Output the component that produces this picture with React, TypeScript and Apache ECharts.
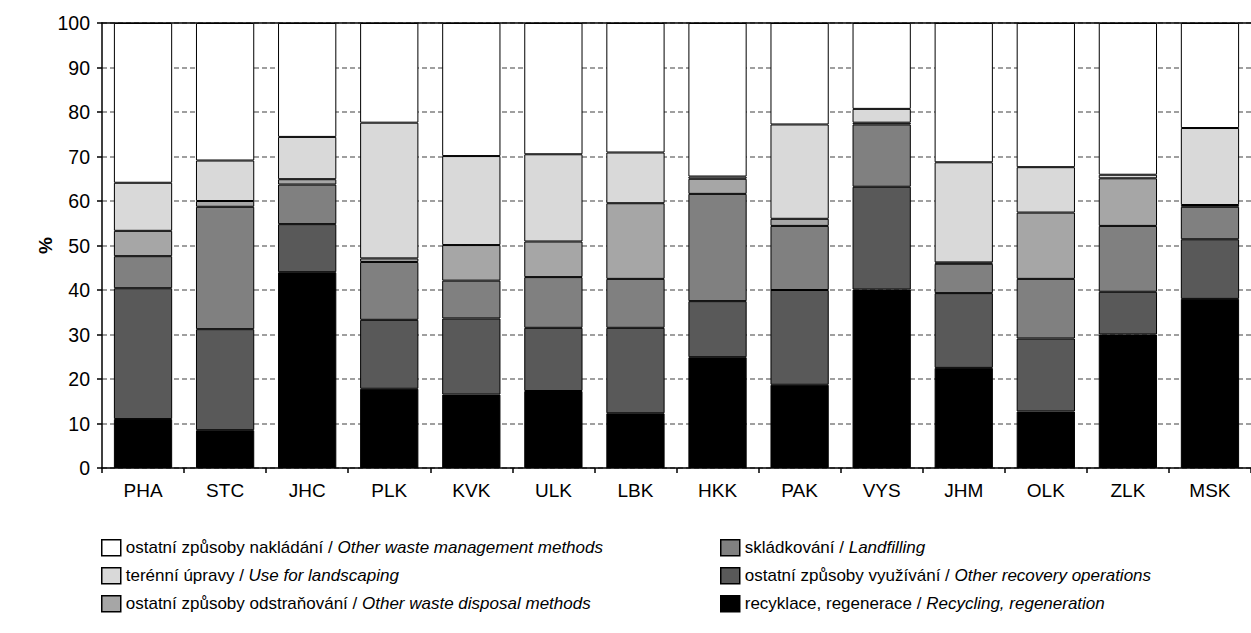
import React, { useEffect, useRef } from "react";
import * as echarts from "echarts";

const regions = ["PHA", "STC", "JHC", "PLK", "KVK", "ULK", "LBK", "HKK", "PAK", "VYS", "JHM", "OLK", "ZLK", "MSK"];

// bottom to top
const recycling = [11.0, 8.5, 44.0, 17.8, 16.5, 17.3, 12.3, 24.9, 18.7, 40.1, 22.5, 12.7, 30.0, 38.0];
const otherRecovery = [29.4, 22.7, 10.8, 15.5, 17.1, 14.2, 19.2, 12.6, 21.3, 23.1, 16.8, 16.4, 9.6, 13.4];
const landfilling = [7.2, 27.5, 8.9, 13.0, 8.5, 11.4, 11.0, 24.1, 14.4, 14.0, 6.6, 13.4, 14.8, 7.3];
const otherDisposal = [5.7, 1.3, 1.2, 0.8, 8.0, 8.0, 17.0, 3.4, 1.6, 0.4, 0.3, 14.9, 10.7, 0.4];
const landscaping = [10.8, 9.1, 9.5, 30.5, 20.0, 19.6, 11.4, 0.5, 21.2, 3.1, 22.5, 10.2, 0.8, 17.3];
const otherManagement = [35.9, 30.9, 25.6, 22.4, 29.9, 29.5, 29.1, 34.5, 22.8, 19.3, 31.3, 32.4, 34.1, 23.6];

const seriesDefs = [
  { cz: "recyklace, regenerace", en: "Recycling, regeneration", data: recycling, color: "#000000" },
  { cz: "ostatní způsoby využívání", en: "Other recovery operations", data: otherRecovery, color: "#595959" },
  { cz: "skládkování", en: "Landfilling", data: landfilling, color: "#808080" },
  { cz: "ostatní způsoby odstraňování", en: "Other waste disposal methods", data: otherDisposal, color: "#A6A6A6" },
  { cz: "terénní úpravy", en: "Use for landscaping", data: landscaping, color: "#D9D9D9" },
  { cz: "ostatní způsoby nakládání", en: "Other waste management methods", data: otherManagement, color: "#FFFFFF" },
];

const fullName = (d: { cz: string; en: string }) => `${d.cz} / ${d.en}`;

const FONT = "'Liberation Sans', Arial, sans-serif";

export default function App() {
  const ref = useRef<HTMLDivElement>(null);
  useEffect(() => {
    if (!ref.current) return;
    const chart = echarts.init(ref.current, null, { renderer: "svg" });
    const legendText = {
      fontFamily: FONT,
      fontSize: 17,
      color: "#000",
      rich: {
        n: { fontFamily: FONT, fontSize: 17, color: "#000" },
        i: { fontFamily: FONT, fontSize: 17, color: "#000", fontStyle: "italic" },
      },
    };
    const fmt = (name: string) => {
      const idx = name.indexOf(" / ");
      return `{n|${name.slice(0, idx)} / }{i|${name.slice(idx + 3)}}`;
    };
    const legendBase = {
      orient: "vertical",
      top: 534,
      icon: "rect",
      itemWidth: 19,
      itemHeight: 16,
      itemGap: 10.5,
      itemStyle: { borderColor: "#000", borderWidth: 1.5 },
      formatter: fmt,
      textStyle: legendText,
      selectedMode: false,
    };
    chart.setOption({
      animation: false,
      backgroundColor: "#ffffff",
      textStyle: { fontFamily: FONT },
      grid: { left: 102, right: 0, top: 23, bottom: 165, containLabel: false },
      legend: [
        {
          ...legendBase,
          left: 96,
          data: [seriesDefs[5], seriesDefs[4], seriesDefs[3]].map(fullName),
        },
        {
          ...legendBase,
          left: 715,
          data: [seriesDefs[2], seriesDefs[1], seriesDefs[0]].map(fullName),
        },
      ],
      xAxis: [
        {
          type: "category",
          data: regions,
          axisLine: { lineStyle: { color: "#000", width: 1.5 } },
          axisTick: { show: true, length: 5, lineStyle: { color: "#000", width: 1.5 } },
          axisLabel: { color: "#000", fontSize: 19, fontFamily: FONT, margin: 13 },
          splitLine: { show: false },
        },
        {
          type: "category",
          data: regions,
          position: "top",
          axisLine: { show: true, lineStyle: { color: "#000", width: 1.5 } },
          axisTick: { show: false },
          axisLabel: { show: false },
        },
      ],
      yAxis: {
        type: "value",
        min: 0,
        max: 100,
        interval: 10,
        name: "%",
        nameLocation: "middle",
        nameGap: 47,
        nameMoveOverlap: false,
        nameRotate: 90,
        nameTextStyle: { color: "#000", fontSize: 19, fontWeight: "bold", fontFamily: FONT },
        axisLine: { show: true, lineStyle: { color: "#000", width: 1.5 } },
        axisTick: { show: true, length: 5, lineStyle: { color: "#000", width: 1.5 } },
        axisLabel: { color: "#000", fontSize: 19.5, fontFamily: FONT, margin: 12 },
        splitLine: { show: true, lineStyle: { color: "#808080", type: [5, 3], width: 1.5 } },
      },
      series: seriesDefs.map((d) => ({
        name: fullName(d),
        type: "bar",
        stack: "total",
        barWidth: "71%",
        data: d.data,
        itemStyle: { color: d.color, borderColor: "#000", borderWidth: 1 },
        emphasis: { disabled: true },
      })),
    });
    return () => chart.dispose();
  }, []);
  return (
    <div
      ref={ref}
      style={{ position: "absolute", left: 0, top: 0, width: 1251, height: 633, background: "#fff" }}
    />
  );
}
